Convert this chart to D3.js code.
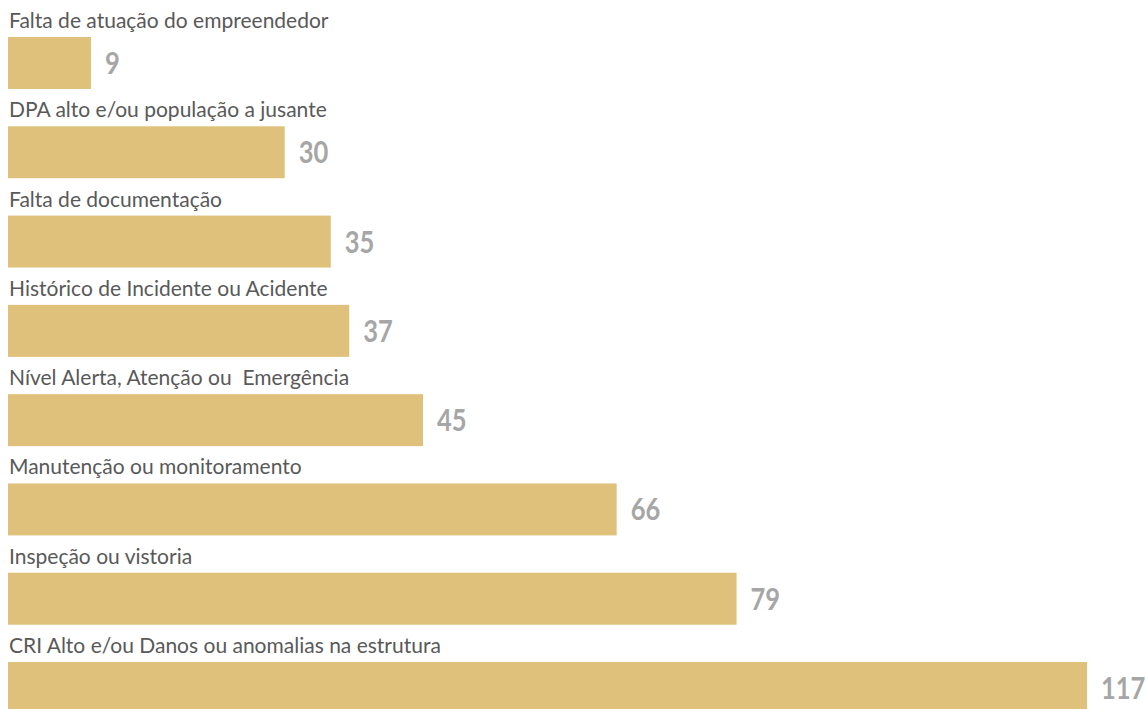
<!DOCTYPE html>
<html>
<head>
<meta charset="utf-8">
<script src="https://cdn.jsdelivr.net/npm/d3@7"></script>
<style>
  body { margin: 0; background: #fff; }
  text { white-space: pre; }
</style>
</head>
<body>
<div id="chart"></div>
<script>
// data
const categories = [
  "Falta de atuação do empreendedor",
  "DPA alto e/ou população a jusante",
  "Falta de documentação",
  "Histórico de Incidente ou Acidente",
  "Nível Alerta, Atenção ou  Emergência",
  "Manutenção ou monitoramento",
  "Inspeção ou vistoria",
  "CRI Alto e/ou Danos ou anomalias na estrutura"
];
const values = [9, 30, 35, 37, 45, 66, 79, 117];

const width = 1146;
const height = 709;
const labelFont = "Lato, 'DejaVu Sans', sans-serif";

const svg = d3.select('#chart')
  .append('svg')
    .attr('width', width)
    .attr('height', height);

const x = d3.scaleLinear()
  .domain([0, 117])
  .range([8, 1087]);

const y = d3.scaleBand()
  .domain(categories)
  .range([37, 714])
  .paddingInner(0.418)
  .paddingOuter(0);

const data = categories.map((c, i) => ({ cat: c, val: values[i] }));

// bars
svg.selectAll('rect.bar')
  .data(data)
  .join('rect')
    .attr('class', 'bar')
    .attr('x', x(0))
    .attr('y', d => y(d.cat))
    .attr('width', d => x(d.val) - x(0))
    .attr('height', y.bandwidth())
    .attr('fill', '#dfc17b');

// category labels above bars
svg.selectAll('text.cat')
  .data(data)
  .join('text')
    .attr('class', 'cat')
    .attr('x', x(0) + 1)
    .attr('y', d => y(d.cat) - 9)
    .attr('font-family', labelFont)
    .attr('font-size', '21px')
    .attr('fill', '#595959')
    .text(d => d.cat);

// value labels (squeezed a bit to look like a condensed face)
svg.selectAll('text.val')
  .data(data)
  .join('text')
    .attr('class', 'val')
    .attr('transform', d => `translate(${x(d.val) + 14},${y(d.cat) + y.bandwidth() / 2 + 11}) scale(0.85,1)`)
    .attr('font-family', labelFont)
    .attr('font-weight', 'bold')
    .attr('font-size', '30px')
    .attr('fill', '#a6a6a6')
    .text(d => d.val);
</script>
</body>
</html>
